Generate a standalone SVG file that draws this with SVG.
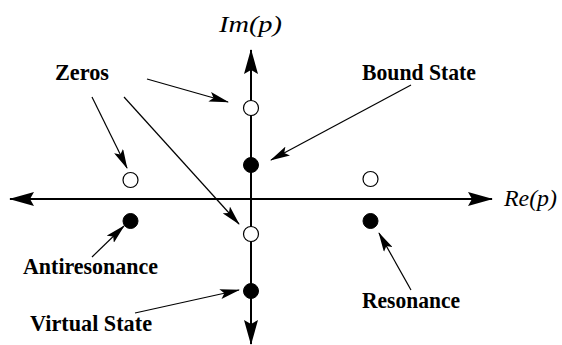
<svg xmlns="http://www.w3.org/2000/svg" width="562" height="345" viewBox="0 0 562 345">
<style>
.lbl{font-family:'Liberation Serif','Times New Roman',serif;font-weight:bold;font-size:22.5px;fill:#000}
.math{font-family:'Liberation Serif','Times New Roman',serif;font-style:italic;font-size:24px;fill:#000}
.axis{stroke:#000;stroke-width:2;fill:none}
.ptr{stroke:#000;stroke-width:1.2;fill:none}
.open{fill:#fff;stroke:#000;stroke-width:1.2}
.full{fill:#000;stroke:#000;stroke-width:1}
</style>
<defs>
<marker id="ah" viewBox="0 0 25 14" refX="24" refY="7" markerWidth="25" markerHeight="14" markerUnits="userSpaceOnUse" orient="auto-start-reverse">
<path d="M0,0 L25,7 L0,14 L4,7 z" fill="#000"/>
</marker>
<marker id="ph" viewBox="0 0 20 10" refX="19" refY="5" markerWidth="20" markerHeight="10" markerUnits="userSpaceOnUse" orient="auto">
<path d="M0,0 L20,5 L0,10 L4,5 z" fill="#000"/>
</marker>
</defs>
<g id="axes">
<line class="axis" x1="10" y1="199" x2="492" y2="199" marker-start="url(#ah)" marker-end="url(#ah)"/>
<line class="axis" x1="251" y1="344" x2="251" y2="50" marker-end="url(#ah)"/>
<line class="axis" x1="251" y1="199" x2="251" y2="344" marker-end="url(#ah)"/>
</g>
<g id="axis-labels">
<text class="math" x="219" y="32" textLength="63" lengthAdjust="spacingAndGlyphs">Im(p)</text>
<text class="math" x="504" y="206" textLength="53" lengthAdjust="spacingAndGlyphs">Re(p)</text>
</g>
<g id="connectors">
<line class="ptr" x1="147" y1="79" x2="228" y2="102" marker-end="url(#ph)"/>
<line class="ptr" x1="92" y1="97" x2="127" y2="168" marker-end="url(#ph)"/>
<line class="ptr" x1="124" y1="97" x2="239" y2="224" marker-end="url(#ph)"/>
<line class="ptr" x1="411" y1="85" x2="271" y2="160" marker-end="url(#ph)"/>
<line class="ptr" x1="92" y1="257" x2="124" y2="226" marker-end="url(#ph)"/>
<line class="ptr" x1="135" y1="313" x2="239" y2="290" marker-end="url(#ph)"/>
<line class="ptr" x1="411" y1="290" x2="379" y2="233" marker-end="url(#ph)"/>
</g>
<g id="zero-top"><circle class="open" cx="251" cy="108" r="7.5"/></g>
<g id="bound-state-pole"><circle class="full" cx="251" cy="165" r="7.5"/></g>
<g id="zero-left"><circle class="open" cx="130.5" cy="180" r="7.5"/></g>
<g id="zero-right"><circle class="open" cx="370.5" cy="179" r="7.5"/></g>
<g id="antiresonance-pole"><circle class="full" cx="130.5" cy="221" r="7.5"/></g>
<g id="resonance-pole"><circle class="full" cx="370.5" cy="221" r="7.5"/></g>
<g id="zero-bottom"><circle class="open" cx="251" cy="234" r="7.5"/></g>
<g id="virtual-state-pole"><circle class="full" cx="251" cy="291" r="7.5"/></g>
<g id="label-zeros"><text class="lbl" x="55" y="80" textLength="54" lengthAdjust="spacingAndGlyphs">Zeros</text></g>
<g id="label-bound"><text class="lbl" x="362" y="80" textLength="114" lengthAdjust="spacingAndGlyphs">Bound State</text></g>
<g id="label-antiresonance"><text class="lbl" x="23" y="274" textLength="135" lengthAdjust="spacingAndGlyphs">Antiresonance</text></g>
<g id="label-virtual"><text class="lbl" x="30" y="331" textLength="122" lengthAdjust="spacingAndGlyphs">Virtual State</text></g>
<g id="label-resonance"><text class="lbl" x="362" y="308" textLength="98" lengthAdjust="spacingAndGlyphs">Resonance</text></g>
</svg>
